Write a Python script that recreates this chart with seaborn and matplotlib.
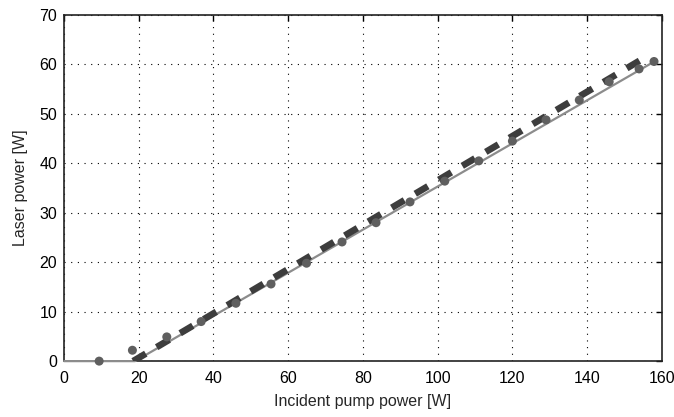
"""
Laser power vs incident pump power, measured points with threshold fits
"""

import numpy as np
import pandas as pd
import seaborn as sns
import matplotlib

matplotlib.use("Agg")
import matplotlib.pyplot as plt

# measured points
pump_meas = [9.4, 18.3, 27.5, 36.7, 46.0, 55.4, 64.9, 74.4, 83.5, 92.6,
             101.9, 111.0, 120.0, 129.0, 137.9, 145.9, 153.9, 157.9]
laser_meas = [0.0, 2.2, 4.9, 8.0, 11.7, 15.6, 19.8, 24.1, 28.0, 32.2,
              36.4, 40.5, 44.5, 48.8, 52.8, 56.5, 59.1, 60.6]

# linear fit with threshold (solid)
pump_fit = [0.0, 19.0, 158.0]
laser_fit = [0.0, 0.0, 60.6]

# model curve (dashed)
pump_model = [18.5, 155.9]
laser_model = [0.0, 61.6]

x_ticks = [0, 20, 40, 60, 80, 100, 120, 140, 160]
y_ticks = [0, 10, 20, 30, 40, 50, 60, 70]

sns.set_style("white")
plt.rcParams["font.family"] = ["Liberation Sans", "DejaVu Sans"]

fig = plt.figure(figsize=(6.74, 4.17), dpi=100)
ax = fig.add_axes([0.095, 0.134, 0.887, 0.830])

df_meas = pd.DataFrame({"pump": pump_meas, "laser": laser_meas})
df_fit = pd.DataFrame({"pump": pump_fit, "laser": laser_fit})
df_model = pd.DataFrame({"pump": pump_model, "laser": laser_model})

sns.lineplot(data=df_fit, x="pump", y="laser", ax=ax, color="#8c8c8c",
             linewidth=1.6, zorder=4, clip_on=False, sort=False)
sns.lineplot(data=df_model, x="pump", y="laser", ax=ax, color="#3d3d3d",
             linewidth=4.8, linestyle=(0, (2.2, 1.9)), zorder=5,
             solid_capstyle="butt", sort=False)
sns.scatterplot(data=df_meas, x="pump", y="laser", ax=ax, color="#5f5f5f",
                s=42, edgecolor="none", zorder=6, clip_on=False)

ax.set_xlim(0, 160)
ax.set_ylim(0, 70)
ax.set_xticks(x_ticks)
ax.set_yticks(y_ticks)
ax.grid(True, color="black", linewidth=0.8, linestyle=(0, (1, 5)))
ax.set_axisbelow(True)
ax.tick_params(direction="in", top=True, right=True, length=4.5, width=1,
               labelsize=11.5, colors="black")
ax.tick_params(axis="x", pad=7)
ax.tick_params(axis="y", pad=5)
for sp in ax.spines.values():
    sp.set_visible(True)
    sp.set_color("#222222")
    sp.set_linewidth(1.2)

ax.set_xlabel("Incident pump power [W]", fontsize=11.5, labelpad=6)
ax.set_ylabel("Laser power [W]", fontsize=11.5, labelpad=8)

fig.savefig("out.png", dpi=100)
